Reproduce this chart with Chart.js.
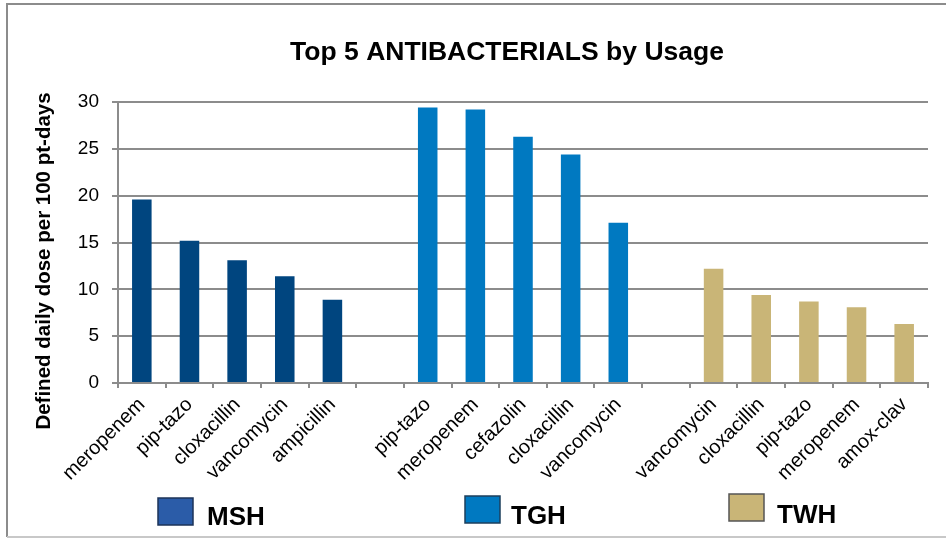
<!DOCTYPE html>
<html>
<head>
<meta charset="utf-8">
<script src="https://cdn.jsdelivr.net/npm/chart.js@4.4.1/dist/chart.umd.min.js"></script>
<style>
  html, body { margin: 0; padding: 0; background: #fff; }
  #wrap { width: 946px; height: 538px; position: relative; }
</style>
</head>
<body>
<div id="wrap"><canvas id="chart"></canvas></div>
<script>
// top 5 drugs per hospital, DDD per 100 patient-days
const hospitals = ["MSH", "TGH", "TWH"];
const mshDrugs = ["meropenem", "pip-tazo", "cloxacillin", "vancomycin", "ampicillin"];
const mshUsage = [19.6, 15.2, 13.1, 11.4, 8.9];
const tghDrugs = ["pip-tazo", "meropenem", "cefazolin", "cloxacillin", "vancomycin"];
const tghUsage = [29.4, 29.2, 26.3, 24.4, 17.1];
const twhDrugs = ["vancomycin", "cloxacillin", "pip-tazo", "meropenem", "amox-clav"];
const twhUsage = [12.2, 9.4, 8.7, 8.1, 6.3];
const yTicks = [0, 5, 10, 15, 20, 25, 30];

const barColors = ["#00457f", "#0079c1", "#c9b577"];
const keyColors = ["#2b5ca8", "#0079c1", "#c9b577"];
const keyBorders = ["#1c3358", "#1c3f5c", "#555555"];
const titleText = "Top 5 ANTIBACTERIALS by Usage";
const yTitleText = "Defined daily dose per 100 pt-days";
const FONT = "'Liberation Sans', Arial, sans-serif";

// one empty slot between hospital groups
const labels = [...mshDrugs, "", ...tghDrugs, "", ...twhDrugs];
const blank = n => Array(n).fill(null);
const series = [
  [...mshUsage, ...blank(12)],
  [...blank(6), ...tghUsage, ...blank(6)],
  [...blank(12), ...twhUsage]
];

const frameAndText = {
  id: "frameAndText",
  beforeDraw(chart) {
    const ctx = chart.ctx;
    ctx.save();
    ctx.fillStyle = "#fff";
    ctx.fillRect(0, 0, chart.width, chart.height);
    ctx.strokeStyle = "#8c8c8c";
    ctx.lineWidth = 2;
    ctx.beginPath();
    ctx.moveTo(chart.width + 2, 4);
    ctx.lineTo(7, 4);
    ctx.lineTo(7, 537);
    ctx.stroke();
    ctx.strokeStyle = "#c8c8c8";
    ctx.beginPath();
    ctx.moveTo(7, 537);
    ctx.lineTo(chart.width + 2, 537);
    ctx.stroke();
    ctx.restore();
  },
  afterDraw(chart) {
    const ctx = chart.ctx;
    ctx.save();
    ctx.fillStyle = "#000";
    ctx.font = "bold 26.5px " + FONT;
    ctx.textAlign = "center";
    ctx.textBaseline = "alphabetic";
    ctx.fillText(titleText, 507, 60);

    // value axis title, centred on the plot plus its labels
    ctx.save();
    ctx.translate(44, 261);
    ctx.rotate(-Math.PI / 2);
    ctx.font = "bold 20.5px " + FONT;
    ctx.textBaseline = "middle";
    ctx.fillText(yTitleText, 0, 0);
    ctx.restore();

    // hospital key along the bottom
    const boxX = [158, 465, 729], boxY = [498, 496, 494];
    const textX = [207, 511, 777], textY = [525, 524, 523];
    ctx.font = "bold 26px " + FONT;
    ctx.textAlign = "left";
    hospitals.forEach((h, i) => {
      ctx.fillStyle = keyColors[i];
      ctx.fillRect(boxX[i], boxY[i], 35, 27);
      ctx.strokeStyle = keyBorders[i];
      ctx.lineWidth = 1.5;
      ctx.strokeRect(boxX[i], boxY[i], 35, 27);
      ctx.fillStyle = "#000";
      ctx.fillText(h, textX[i], textY[i]);
    });
    ctx.restore();
  }
};

new Chart(document.getElementById("chart"), {
  type: "bar",
  data: {
    labels: labels,
    datasets: hospitals.map((h, i) => ({
      label: h,
      data: series[i],
      backgroundColor: barColors[i],
      borderWidth: 0
    }))
  },
  options: {
    responsive: true,
    maintainAspectRatio: false,
    animation: false,
    layout: { padding: { top: 102, right: 18, left: 0, bottom: 0 } },
    datasets: { bar: { grouped: false, categoryPercentage: 1, barPercentage: 0.41 } },
    plugins: {
      legend: { display: false },
      tooltip: { enabled: false }
    },
    scales: {
      x: {
        afterFit(scale) { scale.height = 155; },
        grid: { drawOnChartArea: false, drawTicks: true, tickLength: 5, offset: true, color: "#8c8c8c", lineWidth: 2 },
        border: { color: "#8c8c8c", width: 2 },
        ticks: {
          autoSkip: false,
          maxRotation: 45,
          minRotation: 45,
          padding: 5,
          labelOffset: 0,
          color: "#000",
          font: { family: FONT, size: 20 }
        }
      },
      y: {
        min: 0,
        max: 30,
        afterFit(scale) { scale.width = 118; },
        afterBuildTicks(scale) { scale.ticks = yTicks.map(v => ({ value: v })); },
        grid: { color: "#8c8c8c", lineWidth: 2, tickLength: 6 },
        border: { color: "#8c8c8c", width: 2 },
        ticks: {
          padding: 13,
          color: "#000",
          font: { family: FONT, size: 19 }
        }
      }
    }
  },
  plugins: [frameAndText]
});
</script>
</body>
</html>
